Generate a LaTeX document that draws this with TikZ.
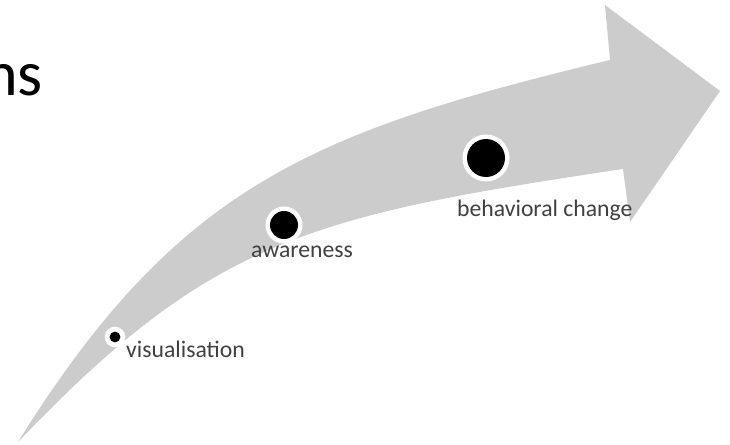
\documentclass[tikz,border=0pt]{standalone}
\usepackage{fontspec}
\setmainfont{Carlito}
\definecolor{arrowgray}{HTML}{CCCCCC}
\definecolor{labelgray}{HTML}{404040}
\tikzset{
  lbl/.style={anchor=base west, inner sep=0pt, text=labelgray, font=\fontsize{23.7}{28}\selectfont},
  dotring/.style={fill=white, draw=none},
  dotcore/.style={fill=black, draw=none}
}
\begin{document}
\begin{tikzpicture}[x=1pt,y=-1pt]
\useasboundingbox (0,0) rectangle (730,444);
\clip (0,0) rectangle (730,444);
% curved arrow
\fill[arrowgray] (18,442) .. controls (177,187) and (310,132) .. (610,60)
  -- (605,5) -- (720,91) -- (630,222) -- (623,169)
  .. controls (308,216) and (211,240) .. (18,442) -- cycle;
% partial title
\node[anchor=base west, inner sep=0pt, font=\fontsize{64}{70}\selectfont, text=black] (title) at (-16,95) {ns};
% dots
\fill[dotring] (115,337) circle (10.3);
\fill[dotcore] (115,337) circle (5.4);
\fill[dotring] (284,225) circle (18.5);
\fill[dotcore] (284,225) circle (14);
\fill[dotring] (486,158) circle (23.5);
\fill[dotcore] (486,158) circle (19);
% labels
\node[lbl] (vis) at (126,357.5) {visualisation};
\node[lbl] (awa) at (251,257) {awareness};
\node[lbl] (beh) at (457,216.7) {behavioral change};
\end{tikzpicture}
\end{document}
